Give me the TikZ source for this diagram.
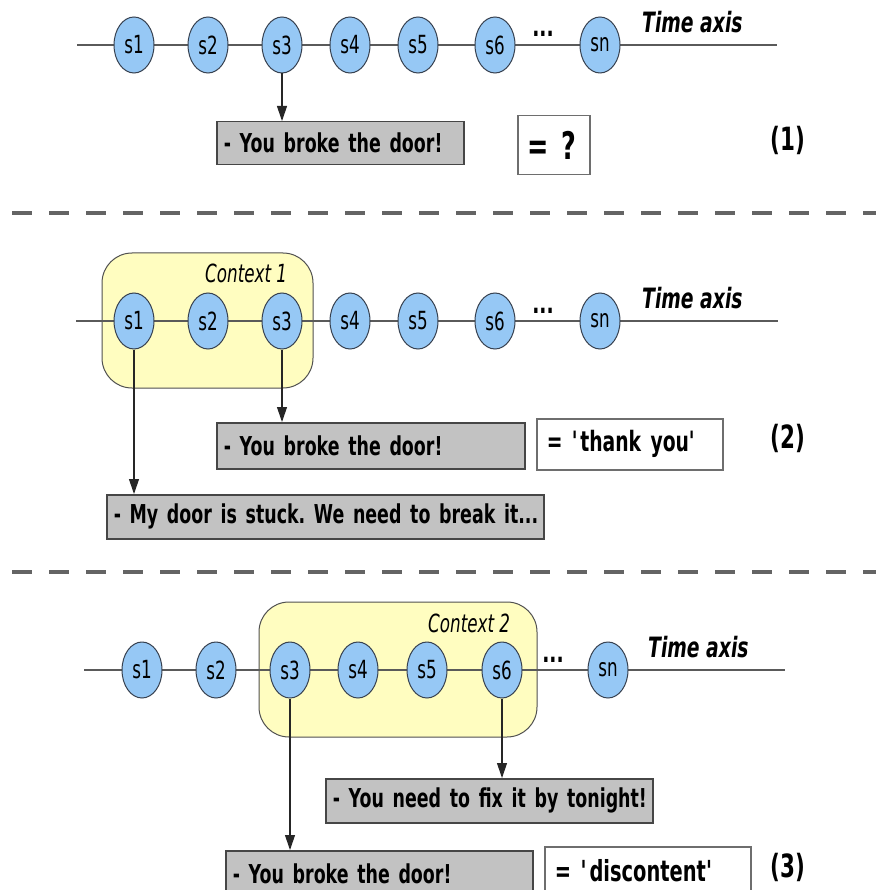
\documentclass[tikz,border=0pt]{standalone}
\usepackage{fontspec}
\setmainfont{DejaVu Sans}[FakeStretch=0.67]
\usetikzlibrary{arrows.meta,shapes.geometric}
\definecolor{circfill}{RGB}{150,200,245}
\definecolor{circborder}{RGB}{55,65,80}
\definecolor{axiscol}{RGB}{90,90,90}
\definecolor{ctxfill}{RGB}{255,253,192}
\definecolor{ctxborder}{RGB}{80,80,80}
\definecolor{gfill}{RGB}{194,194,194}
\definecolor{gborder}{RGB}{70,70,70}
\definecolor{wborder}{RGB}{110,110,110}
\definecolor{dashcol}{RGB}{100,100,100}
\frenchspacing
\begin{document}
\begin{tikzpicture}[x=1pt,y=-1pt,
  stnode/.style={ellipse, draw=circborder, fill=circfill, line width=1pt,
    minimum width=40pt, minimum height=56pt, inner sep=0pt,
    font=\fontsize{25}{27}\selectfont},
  axisline/.style={draw=axiscol, line width=1.5pt},
  ctxbox/.style={draw=ctxborder, fill=ctxfill, line width=1pt, rounded corners=30pt},
  ctxlabel/.style={anchor=base west, inner sep=0pt, font=\itshape\fontsize{25}{27}\selectfont},
  timelabel/.style={anchor=base west, inner sep=0pt, font=\bfseries\itshape\fontsize{28}{30}\selectfont},
  dotslabel/.style={anchor=base, inner sep=0pt, font=\bfseries\fontsize{28}{30}\selectfont},
  gbox/.style={draw=gborder, fill=gfill, line width=1.5pt, anchor=north west,
    inner xsep=7pt, inner ysep=0pt, align=left,
    font=\bfseries\fontsize{26}{28}\selectfont},
  wbox/.style={draw=wborder, fill=white, line width=1.5pt, anchor=north west,
    inner xsep=10pt, inner ysep=0pt, align=left,
    font=\bfseries\fontsize{29}{31}\selectfont},
  numlabel/.style={inner sep=0pt, font=\bfseries\fontsize{32}{34}\selectfont},
  arr/.style={draw=black!85, line width=1.1pt, -{Triangle[width=10pt,length=15pt]}},
  sep/.style={draw=dashcol, line width=4pt, dash pattern=on 20pt off 17pt}
]
\useasboundingbox (0,0) rectangle (876,890);
\clip (0,0) rectangle (876,890);
\fill[white] (0,0) rectangle (876,890);

% ---------------- Panel 1 ----------------
\coordinate (a1s) at (77,45);
\coordinate (a1e) at (777,45);
\draw[axisline] (a1s) -- (a1e);
\foreach \n/\x in {1/134,2/208,3/282,4/350,5/418,6/495}
  \node[stnode] (p1s\n) at (\x,45) {s\n};
\node[stnode] (p1sn) at (600,45) {sn};
\node[dotslabel] (p1dots) at (543,37) {...};
\node[timelabel] (p1time) at (642,33) {Time axis};
\node[gbox, text width=233pt, minimum height=43pt] (p1b) at (216,121) {\mbox{- You broke the door!}};
\node[wbox, text width=52pt, minimum height=59pt, font=\bfseries\fontsize{38}{40}\selectfont, inner xsep=10pt] (p1w) at (517,115) {= ?};
\node[numlabel] (p1n) at (788,140) {(1)};
\draw[arr] (p1s3.south) -- (p1s3.south |- p1b.north);

\coordinate (d1s) at (12,213);
\coordinate (d1e) at (876,213);
\draw[sep] (d1s) -- (d1e);

% ---------------- Panel 2 ----------------
\draw[ctxbox] (102,253) rectangle (313,388);
\node[ctxlabel] (ctx1) at (205,283) {Context 1};
\coordinate (a2s) at (76,321);
\coordinate (a2e) at (778,321);
\draw[axisline] (a2s) -- (a2e);
\foreach \n/\x in {1/134,2/208,3/282,4/350,5/418,6/495}
  \node[stnode] (p2s\n) at (\x,321) {s\n};
\node[stnode] (p2sn) at (600,321) {sn};
\node[dotslabel] (p2dots) at (543,313) {...};
\node[timelabel] (p2time) at (642,308) {Time axis};
\node[gbox, text width=294pt, minimum height=46pt] (p2b1) at (216,422) {\mbox{- You broke the door!}};
\node[gbox, text width=423pt, minimum height=44pt] (p2b2) at (106,494) {\mbox{- My door is stuck. We need to break it...}};
\node[wbox, text width=166pt, minimum height=51pt, font=\bfseries\fontsize{28}{30}\selectfont] (p2w) at (536,418) {\mbox{= \textquotesingle thank you\textquotesingle}};
\node[numlabel] (p2n) at (788,438) {(2)};
\draw[arr] (p2s3.south) -- (p2s3.south |- p2b1.north);
\draw[arr] (p2s1.south) -- (p2s1.south |- p2b2.north);

\coordinate (d2s) at (12,572);
\coordinate (d2e) at (876,572);
\draw[sep] (d2s) -- (d2e);

% ---------------- Panel 3 ----------------
\draw[ctxbox] (259,602) rectangle (537,737);
\node[ctxlabel] (ctx2) at (428,632) {Context 2};
\coordinate (a3s) at (84,670);
\coordinate (a3e) at (785,670);
\draw[axisline] (a3s) -- (a3e);
\foreach \n/\x in {1/142,2/216,3/290,4/358,5/427,6/502}
  \node[stnode] (p3s\n) at (\x,670) {s\n};
\node[stnode] (p3sn) at (608,670) {sn};
\node[dotslabel] (p3dots) at (553,662) {...};
\node[timelabel] (p3time) at (648,657) {Time axis};
\node[gbox, text width=313pt, minimum height=44pt] (p3b1) at (325,778) {\mbox{- You need to fix it by tonight!}};
\node[gbox, text width=293pt, minimum height=46pt] (p3b2) at (225,850) {\mbox{- You broke the door!}};
\node[wbox, text width=186pt, minimum height=48pt, inner xsep=10pt] (p3w) at (544,846) {\mbox{= \textquotesingle discontent\textquotesingle}};
\node[numlabel] (p3n) at (788,867) {(3)};
\draw[arr] (p3s6.south) -- (p3s6.south |- p3b1.north);
\draw[arr] (p3s3.south) -- (p3s3.south |- p3b2.north);
\end{tikzpicture}
\end{document}
